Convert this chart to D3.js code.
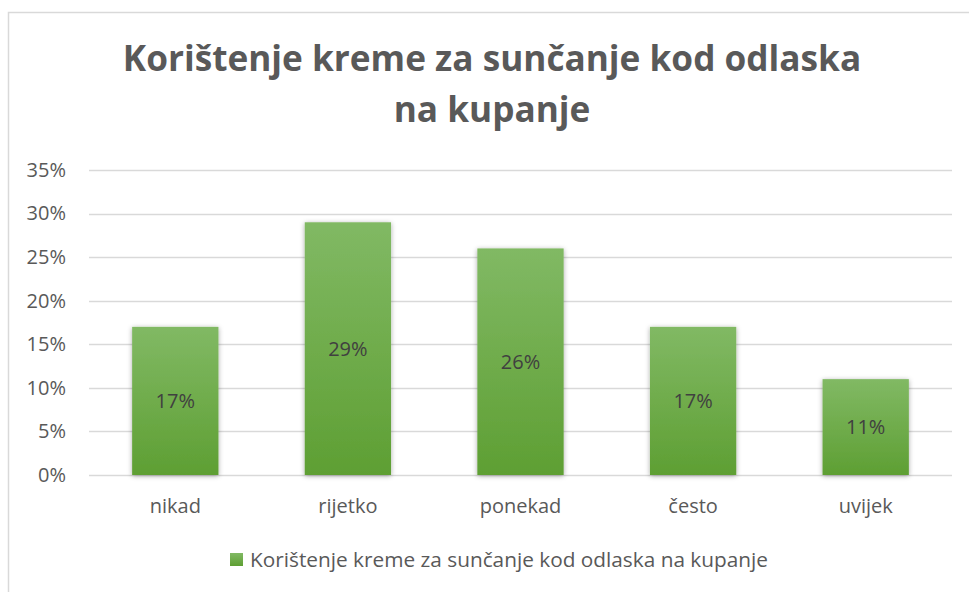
<!DOCTYPE html>
<html>
<head>
<meta charset="utf-8">
<script src="https://cdn.jsdelivr.net/npm/d3@7"></script>
<style>
  body { margin: 0; background: #fff; }
  svg { font-family: "Open Sans", sans-serif; }
</style>
</head>
<body>
<div id="chart"></div>
<script>
// data
var categories = ["nikad", "rijetko", "ponekad", "često", "uvijek"];
var values = [0.17, 0.29, 0.26, 0.17, 0.11];
var yTicks = [0, 0.05, 0.10, 0.15, 0.20, 0.25, 0.30, 0.35];
var titleLines = ["Korištenje kreme za sunčanje kod odlaska", "na kupanje"];
var seriesName = "Korištenje kreme za sunčanje kod odlaska na kupanje";

var width = 969, height = 592;
var plotLeft = 89, plotRight = 952, plotTop = 170, plotBottom = 475;
var labelSize = 20;

var svg = d3.select("#chart").append("svg")
    .attr("width", width)
    .attr("height", height);

var defs = svg.append("defs");
var grad = defs.append("linearGradient")
    .attr("id", "barGrad")
    .attr("x1", 0).attr("y1", 0).attr("x2", 0).attr("y2", 1);
grad.append("stop").attr("offset", "0%").attr("stop-color", "#81b964");
grad.append("stop").attr("offset", "100%").attr("stop-color", "#5e9f33");

var shadow = defs.append("filter").attr("id", "shadow")
    .attr("x", "-20%").attr("y", "-10%").attr("width", "140%").attr("height", "120%");
shadow.append("feDropShadow")
    .attr("dx", 0).attr("dy", 1)
    .attr("stdDeviation", 2.5)
    .attr("flood-color", "#000")
    .attr("flood-opacity", 0.35);

// chart frame
svg.append("rect")
    .attr("x", 8.5).attr("y", 12.5)
    .attr("width", 980).attr("height", 600)
    .attr("fill", "#fff")
    .attr("stroke", "#d9d9d9")
    .attr("stroke-width", 1.5);

var x = d3.scaleBand()
    .domain(categories)
    .range([plotLeft, plotRight])
    .paddingInner(0.5)
    .paddingOuter(0.25);

var y = d3.scaleLinear()
    .domain([0, 0.35])
    .range([plotBottom, plotTop]);

// gridlines
svg.append("g")
    .selectAll("line")
    .data(yTicks)
    .enter()
    .append("line")
    .attr("x1", plotLeft).attr("x2", plotRight)
    .attr("y1", function (d) { return Math.round(y(d)) + 0.5; })
    .attr("y2", function (d) { return Math.round(y(d)) + 0.5; })
    .attr("stroke", "#d9d9d9")
    .attr("stroke-width", 1.5);

// y axis labels
var yAxis = svg.append("g")
    .attr("transform", "translate(" + (plotLeft - 23) + ",0)")
    .call(d3.axisLeft(y).tickValues(yTicks).tickFormat(d3.format(".0%")).tickSize(0).tickPadding(0));
yAxis.select(".domain").remove();
yAxis.selectAll("text")
    .attr("font-family", "Open Sans")
    .attr("font-size", labelSize)
    .attr("fill", "#595959");

// x axis labels
var xAxis = svg.append("g")
    .attr("transform", "translate(0," + plotBottom + ")")
    .call(d3.axisBottom(x).tickSize(0).tickPadding(24));
xAxis.select(".domain").remove();
xAxis.selectAll("text")
    .attr("font-family", "Open Sans")
    .attr("font-size", labelSize)
    .attr("fill", "#595959");

// bars
var bars = svg.append("g")
    .selectAll("g")
    .data(values)
    .enter()
    .append("g");

bars.append("rect")
    .attr("x", function (d, i) { return x(categories[i]); })
    .attr("y", function (d) { return y(d); })
    .attr("width", x.bandwidth())
    .attr("height", function (d) { return plotBottom - y(d); })
    .attr("fill", "url(#barGrad)")
    .attr("filter", "url(#shadow)");

bars.append("text")
    .attr("x", function (d, i) { return x(categories[i]) + x.bandwidth() / 2; })
    .attr("y", function (d) { return (y(d) + plotBottom) / 2; })
    .attr("dy", "0.35em")
    .attr("text-anchor", "middle")
    .attr("font-size", labelSize)
    .attr("fill", "#404040")
    .text(function (d) { return d3.format(".0%")(d); });

// title
svg.append("g")
    .selectAll("text")
    .data(titleLines)
    .enter()
    .append("text")
    .attr("x", 492)
    .attr("y", function (d, i) { return 71 + i * 51; })
    .attr("text-anchor", "middle")
    .attr("font-size", 35.2)
    .attr("font-weight", "bold")
    .attr("fill", "#595959")
    .text(function (d) { return d; });

// legend
var legend = svg.append("g").attr("transform", "translate(230,553)");
legend.append("rect")
    .attr("width", 13).attr("height", 13)
    .attr("fill", "url(#barGrad)");
legend.append("text")
    .attr("x", 20).attr("y", 7)
    .attr("dy", "0.35em")
    .attr("font-size", 20.8)
    .attr("fill", "#595959")
    .text(seriesName);
</script>
</body>
</html>
